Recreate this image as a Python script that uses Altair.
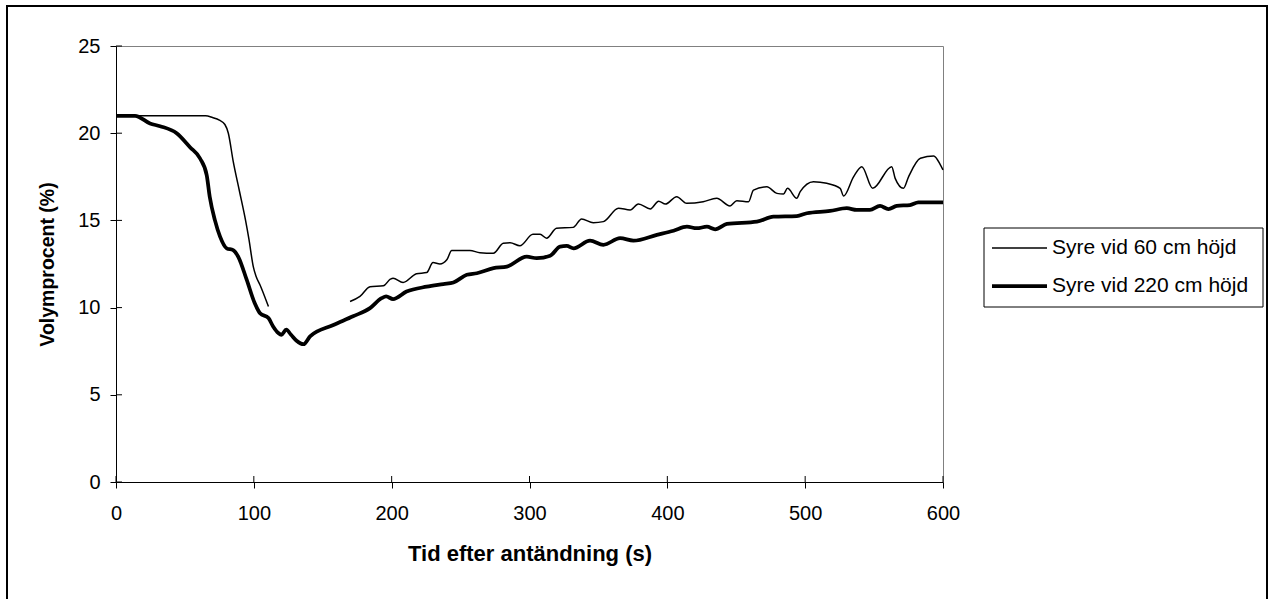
import altair as alt
import pandas as pd

series_names = ["Syre vid 60 cm höjd", "Syre vid 220 cm höjd"]

# 60 cm series, first segment (0-110 s)
t60_a = [0, 20, 40, 60, 65, 70, 75, 79, 81.5, 85, 89.5, 94, 96.5, 99.6, 101.6, 104.5, 110.6]
v60_a = [21.0, 21.0, 21.0, 21.0, 21.0, 20.9, 20.75, 20.5, 20.0, 18.4, 16.7, 15.0, 13.9, 12.35, 11.8, 11.3, 10.06]

# 60 cm series, second segment (170-600 s)
t60_b = [169.8, 177, 184.3, 194, 199, 201, 208.3, 218, 225.4, 230, 235, 240, 243.6, 256.8, 264,
         273.8, 281, 286, 293, 302.5, 307.7, 312.4, 319.6, 331.7, 337.8, 346.3, 353.6, 364.5, 373,
         379, 387.7, 393.7, 398.6, 406.8, 414, 426, 435.8, 445.5, 450.4, 458.9, 462.5, 472.2, 479.5,
         484.3, 487.2, 493.9, 496.4, 506, 515.7, 525.4, 527.9, 535.1, 541.1, 549, 562.8, 565.3,
         571.3, 575, 583.6, 593.3, 598, 600]
v60_b = [10.35, 10.64, 11.2, 11.25, 11.63, 11.69, 11.44, 11.94, 12.01, 12.58, 12.5, 12.74, 13.27,
         13.27, 13.15, 13.12, 13.69, 13.72, 13.54, 14.2, 14.2, 13.98, 14.55, 14.6, 15.08, 14.87,
         14.93, 15.7, 15.6, 15.94, 15.66, 16.1, 15.94, 16.36, 15.98, 16.07, 16.27, 15.83, 16.13,
         16.07, 16.74, 16.93, 16.55, 16.51, 16.84, 16.27, 16.65, 17.22, 17.13, 16.84, 16.4, 17.5,
         18.08, 16.84, 18.08, 17.41, 16.84, 17.5, 18.56, 18.69, 18.2, 17.9]

# 220 cm series
t220 = [0, 13.8, 24.7, 32, 44, 53.7, 61, 65.8, 68, 71.8, 75.5, 80.3, 85, 88.8, 94.8, 100.6, 104.5,
        110.6, 114, 117.8, 120, 123.5, 127, 131, 136, 140.8, 157.7, 172, 184.3, 192.7, 196, 201,
        210.8, 225.4, 237.5, 244.8, 254.5, 261.8, 273.9, 283.6, 298, 305.3, 315, 322.2, 327, 332,
        343.9, 353.6, 365.7, 375.4, 392.4, 404.5, 414.2, 421.4, 428.7, 434.7, 443.2, 465, 477,
        493.9, 501.2, 518.1, 530.2, 537.4, 547, 554.3, 560.4, 566.4, 576, 582.1, 600]
v220 = [21.0, 21.0, 20.56, 20.4, 20.0, 19.2, 18.55, 17.6, 16.36, 15.0, 14.07, 13.4, 13.3, 12.9,
        11.6, 10.26, 9.68, 9.4, 8.92, 8.54, 8.44, 8.73, 8.44, 8.1, 7.9, 8.35, 9.0, 9.5, 9.97, 10.54,
        10.64, 10.49, 10.92, 11.2, 11.35, 11.44, 11.88, 11.97, 12.26, 12.35, 12.92, 12.83, 12.97,
        13.5, 13.54, 13.4, 13.84, 13.6, 13.98, 13.84, 14.17, 14.41, 14.64, 14.55, 14.64, 14.49,
        14.8, 14.93, 15.21, 15.25, 15.41, 15.54, 15.7, 15.6, 15.6, 15.83, 15.65, 15.83, 15.88,
        16.04, 16.04]

x_ticks = [0, 100, 200, 300, 400, 500, 600]
y_ticks = [0, 5, 10, 15, 20, 25]

W, H = 827, 436
FONT = "Liberation Sans"

df60 = pd.DataFrame({
    "t": t60_a + t60_b,
    "v": v60_a + v60_b,
    "seg": ["a"] * len(t60_a) + ["b"] * len(t60_b),
})
df220 = pd.DataFrame({"t": t220, "v": v220})

xscale = alt.Scale(domain=[0, 600], nice=False, zero=False)
yscale = alt.Scale(domain=[0, 25], nice=False)

xax = alt.Axis(values=x_ticks, title="Tid efter antändning (s)", labelFontSize=20, titleFontSize=22,
               titleFontWeight="bold", tickSize=6, labelPadding=15, titlePadding=20, grid=False,
               domainColor="black", tickColor="black", labelColor="black", titleColor="black",
               labelFont=FONT, titleFont=FONT, domainWidth=1, tickWidth=1, labelFlush=False)
yax = alt.Axis(values=y_ticks, title="Volymprocent (%)", labelFontSize=20, titleFontSize=19.5,
               titleFontWeight="bold", tickSize=6, labelPadding=10, titlePadding=20, grid=False,
               domainColor="black", tickColor="black", labelColor="black", titleColor="black",
               labelFont=FONT, titleFont=FONT, domainWidth=1, tickWidth=1)

X = alt.X("t:Q", scale=xscale, axis=xax)
Y = alt.Y("v:Q", scale=yscale, axis=yax)

line60 = alt.Chart(df60).mark_line(color="black", strokeWidth=1.5, interpolate="monotone").encode(
    x=X, y=Y, detail="seg:N")
line220 = alt.Chart(df220).mark_line(color="black", strokeWidth=3.75, interpolate="monotone").encode(
    x=X, y=Y)

# inner halves of the crossing tick marks
xt = alt.Chart(pd.DataFrame({"t": x_ticks})).mark_rule(color="black", strokeWidth=1).encode(
    x=X, y=alt.value(H - 6), y2=alt.value(H))
yt = alt.Chart(pd.DataFrame({"v": y_ticks})).mark_rule(color="black", strokeWidth=1).encode(
    y=Y, x=alt.value(0), x2=alt.value(6))

one = pd.DataFrame({"k": [0]})
border = alt.Chart(one).mark_rect(fillOpacity=0, stroke="black", strokeWidth=2).encode(
    x=alt.value(-109), x2=alt.value(1151), y=alt.value(-40), y2=alt.value(560))

# legend
lx0, lx1, ly0, ly1 = 868, 1147, 182, 261
leg_box = alt.Chart(one).mark_rect(fill="white", stroke="black", strokeWidth=1).encode(
    x=alt.value(lx0), x2=alt.value(lx1), y=alt.value(ly0), y2=alt.value(ly1))
rows = [202, 240]
widths = [1.5, 3.75]
leg_layers = []
for name, ry, sw in zip(series_names, rows, widths):
    leg_layers.append(alt.Chart(one).mark_rule(color="black", strokeWidth=sw).encode(
        x=alt.value(876), x2=alt.value(931), y=alt.value(ry)))
    leg_layers.append(alt.Chart(one).mark_text(align="left", baseline="middle", fontSize=21,
                                                font=FONT, color="black").encode(
        x=alt.value(936), y=alt.value(ry), text=alt.value(name)))

chart = alt.layer(line60, line220, xt, yt, border, leg_box, *leg_layers).properties(
    width=W, height=H,
    padding={"left": 116, "top": 46, "right": 329, "bottom": 117},
    autosize=alt.AutoSizeParams(type="none"),
    background="white",
).configure_view(stroke="#808080", strokeWidth=1)

chart.save("out.html", embed_options={"renderer": "svg", "actions": False})
